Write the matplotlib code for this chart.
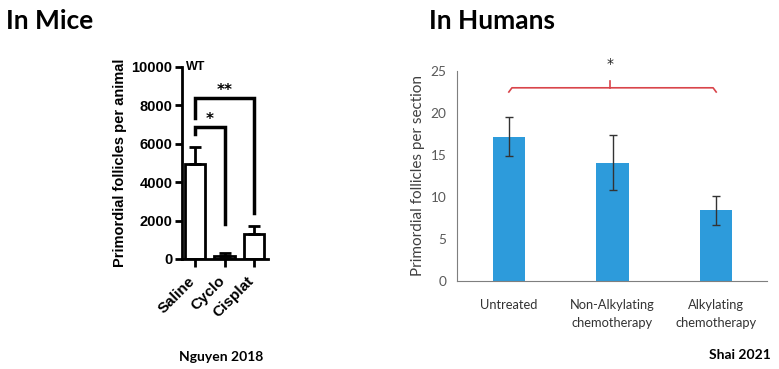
import numpy as np
import matplotlib
matplotlib.use("Agg")
import matplotlib.pyplot as plt
from matplotlib.transforms import ScaledTranslation

# =========================
# Data
# =========================

mice_groups = ["Saline", "Cyclo", "Cisplat"]
mice_values = [4950, 150, 1300]
mice_err = [900, 150, 400]

human_groups = ["Untreated", "Non-Alkylating\nchemotherapy", "Alkylating\nchemotherapy"]
human_values = [17.2, 14.1, 8.4]
human_err = [2.3, 3.3, 1.7]

BLUE = "#2D9BDB"
RED = "#D9444A"
GRAY_TXT = "#595959"

fig = plt.figure(figsize=(7.79, 3.69), dpi=100)

# =========================
# Left panel: mice (Prism style)
# =========================

ax1 = fig.add_axes([182 / 779, 110 / 369, 86 / 779, 192 / 369])
x1 = np.arange(len(mice_groups))
ax1.bar(x1, mice_values, width=0.7, color="white", edgecolor="black", linewidth=2, zorder=2)
ax1.errorbar(x1, mice_values, yerr=[np.zeros(3), mice_err], fmt="none",
             ecolor="black", elinewidth=2, capsize=4, capthick=2, zorder=3)
ax1.set_xlim(-0.44, 2.47)
ax1.set_ylim(0, 10000)
ax1.set_yticks([0, 2000, 4000, 6000, 8000, 10000])
ax1.set_xticks(x1)
ax1.set_xticklabels([])
for lab in ax1.get_yticklabels():
    lab.set_fontweight("bold")
    lab.set_fontsize(10.5)
    lab.set_family("Liberation Sans")
ax1.spines["top"].set_visible(False)
ax1.spines["right"].set_visible(False)
ax1.spines["left"].set_linewidth(2)
ax1.spines["bottom"].set_linewidth(2)
ax1.tick_params(axis="both", width=2, length=5, pad=2)
ax1.tick_params(axis="x", length=6)
ax1.set_ylabel("Primordial follicles per animal", fontsize=10.5, fontweight="bold",
               family="Liberation Sans", labelpad=3)
ax1.text(-0.3, 10000, "WT", fontsize=9, fontweight="bold", family="Liberation Sans",
         va="center", ha="left")

# rotated group labels, set a bit down-left of the ticks
shift = ScaledTranslation(-0.07, -0.15, fig.dpi_scale_trans)
for xi, name in zip(x1, mice_groups):
    ax1.text(xi, 0, name, transform=ax1.get_xaxis_transform() + shift,
             rotation=45, ha="right", va="top", rotation_mode="anchor",
             fontsize=11, fontweight="bold", family="Liberation Sans")

# significance brackets
ax1.plot([0, 0, 1, 1], [6510, 6875, 6875, 1820], color="black", lw=2.5,
         solid_joinstyle="miter", clip_on=False)
ax1.plot([0, 0, 2, 2], [7340, 8385, 8385, 2400], color="black", lw=2.5,
         solid_joinstyle="miter", clip_on=False)
ax1.text(0.5, 6900, "*", ha="center", va="bottom", fontsize=11, fontweight="bold")
ax1.text(1.0, 8400, "**", ha="center", va="bottom", fontsize=11, fontweight="bold")

# =========================
# Right panel: humans (Excel style)
# =========================

ax2 = fig.add_axes([457 / 779, 88 / 369, 310 / 779, 210 / 369])
x2 = np.arange(len(human_groups))
ax2.bar(x2, human_values, width=0.31, color=BLUE, zorder=2)
ax2.errorbar(x2, human_values, yerr=human_err, fmt="none", ecolor="#333333",
             elinewidth=1, capsize=3, capthick=1, zorder=3)
ax2.set_xlim(-0.50, 2.49)
ax2.set_ylim(0, 25)
ax2.set_yticks([0, 5, 10, 15, 20, 25])
ax2.set_xticks(x2)
ax2.set_xticklabels(human_groups, fontsize=9.3, family="Lato", color="#333333",
                    linespacing=1.55)
for lab in ax2.get_yticklabels():
    lab.set_fontsize(9.8)
    lab.set_family("Lato")
    lab.set_color(GRAY_TXT)
for s in ["top", "right"]:
    ax2.spines[s].set_visible(False)
ax2.spines["left"].set_color("#7F7F7F")
ax2.spines["bottom"].set_color("#7F7F7F")
ax2.tick_params(axis="x", length=0, pad=13)
ax2.tick_params(axis="y", length=0, pad=7.5)
ax2.set_ylabel("Primordial follicles per section", fontsize=11, family="Lato",
               color="#404040", labelpad=4)

# curly bracket
brace_y = 23.0
ax2.plot([0, 0.03, 1.97, 2], [brace_y - 0.5, brace_y, brace_y, brace_y - 0.5],
         color=RED, lw=1.2, clip_on=False)
ax2.plot([0.98, 0.98], [brace_y, brace_y + 0.85], color=RED, lw=1.2, clip_on=False)
ax2.text(0.98, 25.0, "*", ha="center", va="bottom", fontsize=10, color="#222222",
         clip_on=False)

# =========================
# Titles and sources
# =========================

fig.text(6 / 779, 1 - 29 / 369, "In Mice", fontsize=19, fontweight="bold",
         family="Lato", ha="left", va="baseline")
fig.text(429 / 779, 1 - 29 / 369, "In Humans", fontsize=19, fontweight="bold",
         family="Lato", ha="left", va="baseline")
fig.text(221 / 779, 1 - 357 / 369, "Nguyen 2018", fontsize=10, fontweight="bold",
         family="Lato", ha="center", va="center")
fig.text(740 / 779, 1 - 355 / 369, "Shai 2021", fontsize=10, fontweight="bold",
         family="Lato", ha="center", va="center")

fig.savefig("out.png", dpi=100)
